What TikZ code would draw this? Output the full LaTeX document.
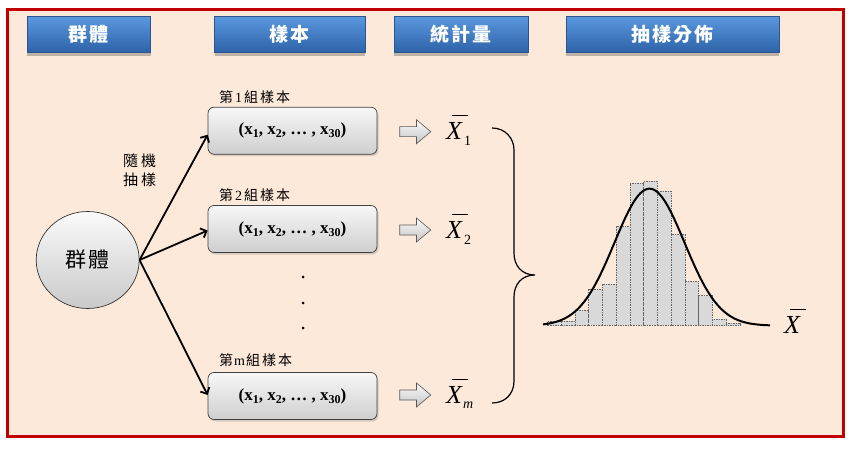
\documentclass[tikz,border=0pt]{standalone}
\usepackage{fontspec}
\setmainfont{Liberation Serif}
\newfontfamily\cjk{Noto Sans CJK TC}
\usetikzlibrary{shadows,shapes.arrows,shapes.geometric,arrows.meta}
\definecolor{bgpeach}{HTML}{FDE9D9}
\definecolor{framered}{HTML}{C00000}
\definecolor{btntop}{HTML}{5A98DE}
\definecolor{btnbot}{HTML}{2D62A8}
\definecolor{btnline}{HTML}{2A5590}
\definecolor{histfill}{HTML}{D9D9D9}
\newcommand{\myXbar}{\makebox[0pt][l]{\hspace{5.5pt}\rule[23pt]{16pt}{0.9pt}}{\itshape X}}
\newcommand{\mysub}[1]{\raisebox{-3pt}{\fontsize{12}{12}\selectfont #1}}
\tikzset{
  header/.style={rectangle, draw=btnline, line width=0.6pt, top color=btntop, bottom color=btnbot,
    text=white, font=\cjk\bfseries\fontsize{19}{19}\selectfont, inner sep=0pt, minimum height=36pt,
    drop shadow={shadow xshift=0pt, shadow yshift=-3pt, opacity=0.35, fill=black!70}},
  sbox/.style={rectangle, rounded corners=6pt, draw=black!75, line width=0.7pt, top color=gray!6,
    bottom color=gray!38, minimum width=169pt, minimum height=47pt, inner sep=0pt,
    font=\bfseries\fontsize{17}{17}\selectfont,
    drop shadow={shadow xshift=1.5pt, shadow yshift=-2pt, opacity=0.3}},
  popnode/.style={ellipse, draw=black!80, line width=0.7pt, top color=gray!4, bottom color=gray!42,
    minimum width=103pt, minimum height=97pt, inner sep=0pt, font=\cjk\fontsize{21}{21}\selectfont},
  barrow/.style={single arrow, draw=black!65, line width=0.6pt, top color=gray!4, bottom color=gray!45,
    minimum height=31pt, single arrow head extend=7pt, inner xsep=0pt, inner ysep=4.7pt,
    single arrow tip angle=80},
  conn/.style={line width=1.8pt, -{Straight Barb[length=5pt,width=10pt]}},
  grplabel/.style={anchor=west, inner sep=0pt, font=\fontsize{14}{14}\selectfont},
  statlabel/.style={anchor=base west, inner sep=0pt, font=\fontsize{26}{26}\selectfont},
  histbar/.style={fill=histfill, draw=gray!80!black, line width=0.5pt, dash pattern=on 1.5pt off 1pt}
}
\begin{document}
\begin{tikzpicture}[x=1pt,y=-1pt]
\useasboundingbox (0,0) rectangle (853,449);
\fill[white] (0,0) rectangle (853,449);
\draw[framered, line width=3pt, fill=bgpeach] (7,9.7) rectangle (843.5,436.7);

% headers
\node[header, minimum width=123.5pt] (h1) at (88.75,34.6) {群\kern2pt 體};
\node[header, minimum width=150.3pt] (h2) at (289.9,34.6) {樣\kern2pt 本};
\node[header, minimum width=134pt] (h3) at (461,34.6) {統\kern2pt 計\kern2pt 量};
\node[header, minimum width=213pt] (h4) at (672.5,34.6) {抽\kern2pt 樣\kern2pt 分\kern2pt 佈};

% population
\node[popnode] (pop) at (87.7,260) {群\kern2pt 體};
\node[inner sep=0pt, align=center, font=\cjk\fontsize{15}{19}\selectfont] (rs) at (139.5,170.5) {隨\kern3pt 機\\抽\kern3pt 樣};

% sample boxes
\node[sbox] (b1) at (292.5,130.7) {(x\mysub{1}, x\mysub{2}, \ldots\ , x\mysub{30})};
\node[sbox] (b2) at (292.5,229) {(x\mysub{1}, x\mysub{2}, \ldots\ , x\mysub{30})};
\node[sbox] (bm) at (292.5,396) {(x\mysub{1}, x\mysub{2}, \ldots\ , x\mysub{30})};

\node[grplabel] (l1) at (219,97) {{\cjk 第}\kern2pt 1\kern2pt{\cjk 組\kern2pt 樣\kern2pt 本}};
\node[grplabel] (l2) at (219,195) {{\cjk 第}\kern2pt 2\kern2pt{\cjk 組\kern2pt 樣\kern2pt 本}};
\node[grplabel] (lm) at (219,360) {{\cjk 第}\kern1pt m\kern1pt{\cjk 組\kern2pt 樣\kern2pt 本}};

% connectors
\draw[conn] (pop.east) -- ([yshift=-4pt]b1.west);
\draw[conn] (pop.east) -- ([yshift=-1.5pt]b2.west);
\draw[conn] (pop.east) -- ([yshift=1pt]bm.west);

% dots
\fill (303,277) circle (1.5pt);
\fill (303,303) circle (1.5pt);
\fill (303,328) circle (1.5pt);

% block arrows
\node[barrow] (a1) at (412.3,131.7) {};
\node[barrow] (a2) at (412.3,230) {};
\node[barrow] (am) at (412.3,395) {};

% statistics
\node[statlabel] (x1) at (446,139.3) {\myXbar\kern2pt\raisebox{-6.5pt}{\fontsize{14}{14}\selectfont 1}};
\node[statlabel] (x2) at (446,238) {\myXbar\kern2pt\raisebox{-6.5pt}{\fontsize{14}{14}\selectfont 2}};
\node[statlabel] (xm) at (446,403.3) {\myXbar\kern1pt\raisebox{-5pt}{\fontsize{14}{14}\selectfont\itshape m}};

% brace
\draw[line width=1.2pt] (492,128) .. controls (505,128) and (514,138) .. (514,150)
  -- (514,253) .. controls (514,266) and (522,275) .. (535,275)
  .. controls (522,275) and (514,284) .. (514,297)
  -- (514,381) .. controls (514,394) and (505,403) .. (492,403);

% histogram
\foreach \l/\t in {547.3/321, 561.06/321, 574.82/310.3, 588.58/289, 602.34/284, 616.1/226.7,
  629.86/183.3, 643.62/181, 657.38/191, 671.14/234.3, 684.9/281, 698.66/295.7, 712.42/319.3, 726.18/323}
  \draw[histbar] (\l,325.7) rectangle ({\l+13.76},\t);
\draw[line width=2pt] plot[domain=543:770, samples=150, smooth] (\x,{325.7-137*exp(-((\x-649.5)^2)/2450)});
\node[statlabel] (xbar) at (784,333.3) {\myXbar};
\end{tikzpicture}
\end{document}
